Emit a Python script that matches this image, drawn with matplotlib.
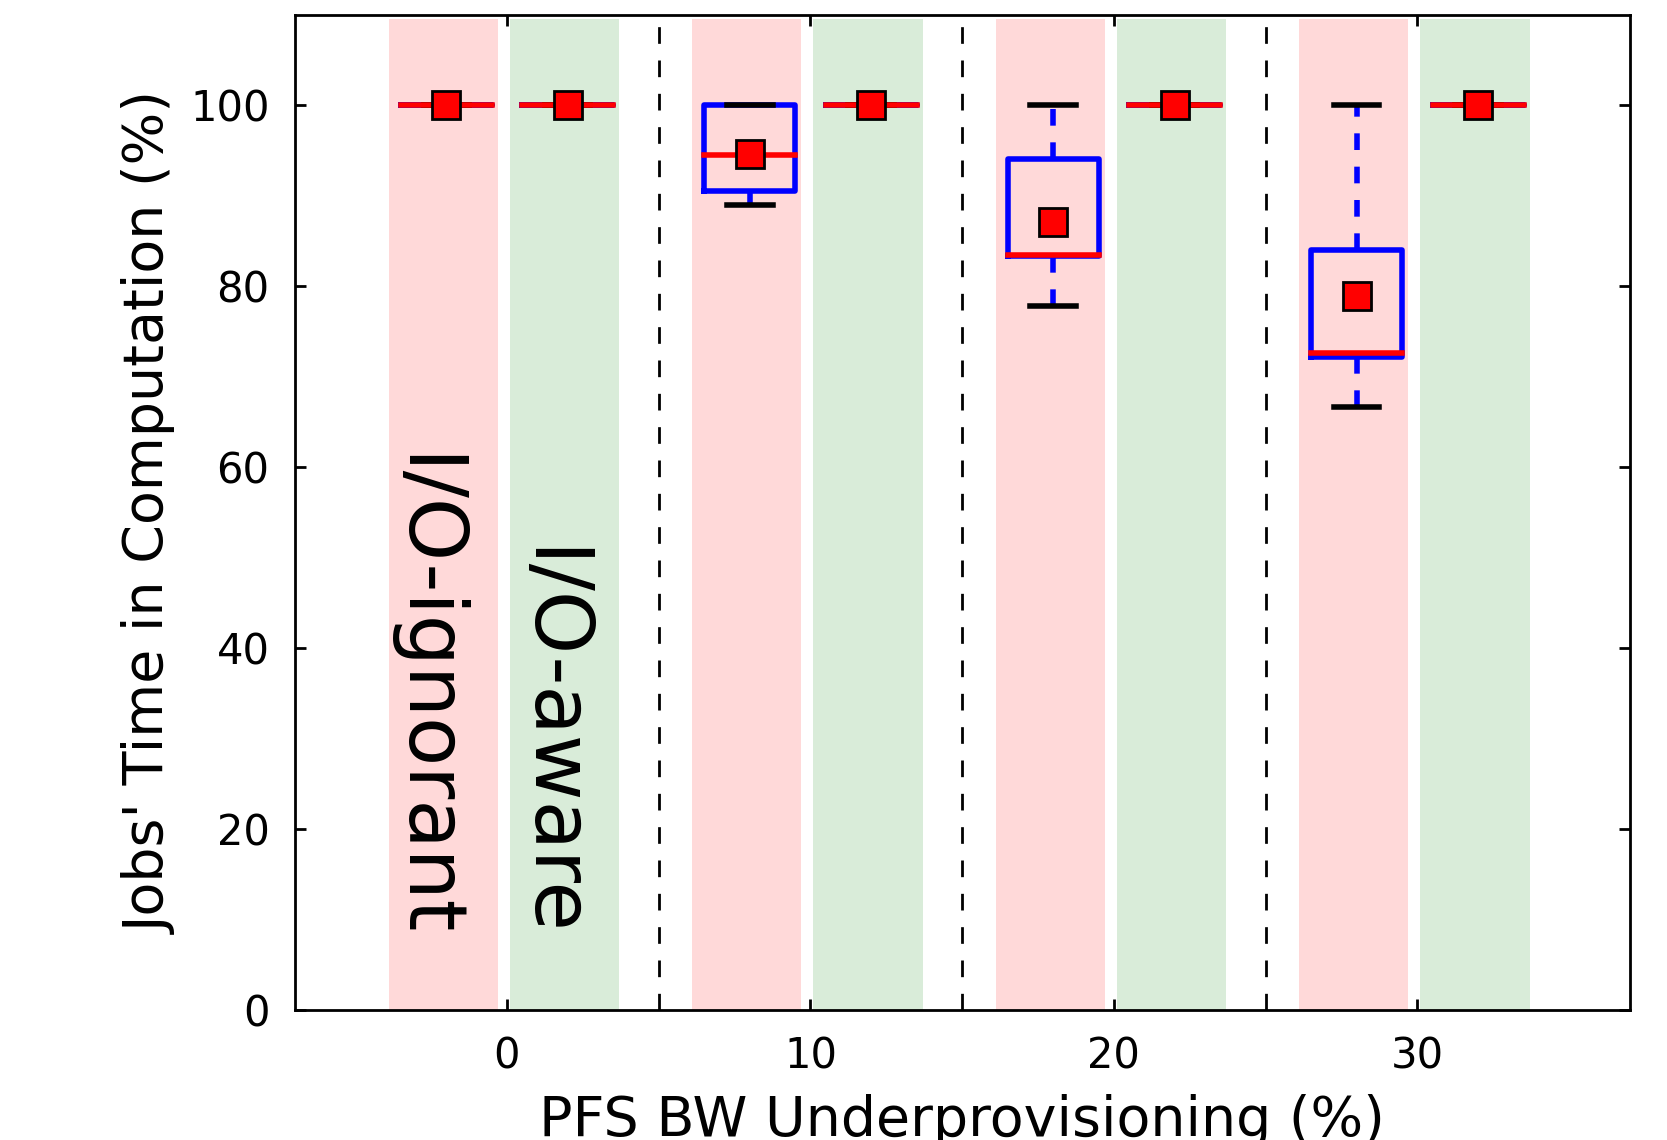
import matplotlib
matplotlib.use("Agg")
import matplotlib.pyplot as plt

# dane
poziomy_bw = [0, 10, 20, 30]           # niedoszacowanie przepustowosci PFS (%)
poz_ignorant = [-2, 8, 18, 28]
poz_aware = [2, 12, 22, 32]

# I/O-ignorant: statystyki pudelek
ign_whislo = [100.0, 89.0, 77.8, 66.7]
ign_q1 = [100.0, 90.5, 83.3, 72.2]
ign_med = [100.0, 94.5, 83.5, 72.6]
ign_q3 = [100.0, 100.0, 94.1, 84.0]
ign_whishi = [100.0, 100.0, 100.0, 100.0]
ign_mean = [100.0, 94.6, 87.1, 78.9]

# I/O-aware: wszystko 100%
awr_whislo = [100.0, 100.0, 100.0, 100.0]
awr_q1 = [100.0, 100.0, 100.0, 100.0]
awr_med = [100.0, 100.0, 100.0, 100.0]
awr_q3 = [100.0, 100.0, 100.0, 100.0]
awr_whishi = [100.0, 100.0, 100.0, 100.0]
awr_mean = [100.0, 100.0, 100.0, 100.0]


def staty(wlo, q1, med, q3, whi, mean):
    return [dict(whislo=a, q1=b, med=c, q3=d, whishi=e, mean=f, fliers=[])
            for a, b, c, d, e, f in zip(wlo, q1, med, q3, whi, mean)]


fig = plt.figure(figsize=(8.335, 5.7), dpi=200)
ax = fig.add_axes([0.1767, 0.1138, 0.8010, 0.8732])

# tlo: pasy kolorow
for p in poz_ignorant:
    ax.axvspan(p - 1.9, p + 1.7, ymax=0.996, color='red', alpha=0.15, lw=0, zorder=0)
for p in poz_aware:
    ax.axvspan(p - 1.9, p + 1.7, ymax=0.996, color='green', alpha=0.15, lw=0, zorder=0)

# linie podzialu
for x in [5, 15, 25]:
    ax.axvline(x, color='k', lw=1, ls=(0, (6, 6)), zorder=1)

styl = dict(
    widths=3, showmeans=True, showfliers=False,
    boxprops=dict(color='blue', lw=2),
    whiskerprops=dict(color='blue', lw=2, ls=(0, (3, 3))),
    capprops=dict(color='black', lw=2),
    medianprops=dict(color='red', lw=2, solid_capstyle='projecting'),
    meanprops=dict(marker='s', markerfacecolor='red', markeredgecolor='black',
                   markeredgewidth=1, markersize=10),
    manage_ticks=False,
)
ax.bxp(staty(ign_whislo, ign_q1, ign_med, ign_q3, ign_whishi, ign_mean),
       positions=poz_ignorant, **styl)
ax.bxp(staty(awr_whislo, awr_q1, awr_med, awr_q3, awr_whishi, awr_mean),
       positions=poz_aware, **styl)

# opisy
ax.text(-2.75, 8.0, 'I/O-ignorant', rotation=270, fontsize=29,
        ha='center', va='bottom')
ax.text(1.4, 8.0, 'I/O-aware', rotation=270, fontsize=29,
        ha='center', va='bottom')

ax.set_xlim(-7, 37)
ax.set_ylim(0, 110)
ax.set_xticks(poziomy_bw)
ax.set_yticks([0, 20, 40, 60, 80, 100])
ax.tick_params(direction='in', length=4, width=1, top=True, right=True,
               labelsize=15, pad=9)
for s in ax.spines.values():
    s.set_linewidth(1)

ax.set_xlabel('PFS BW Underprovisioning (%)', fontsize=20, labelpad=6)
ax.set_ylabel("Jobs' Time in Computation (%)", fontsize=20, labelpad=4.5)

fig.savefig('out.png', dpi=200)
